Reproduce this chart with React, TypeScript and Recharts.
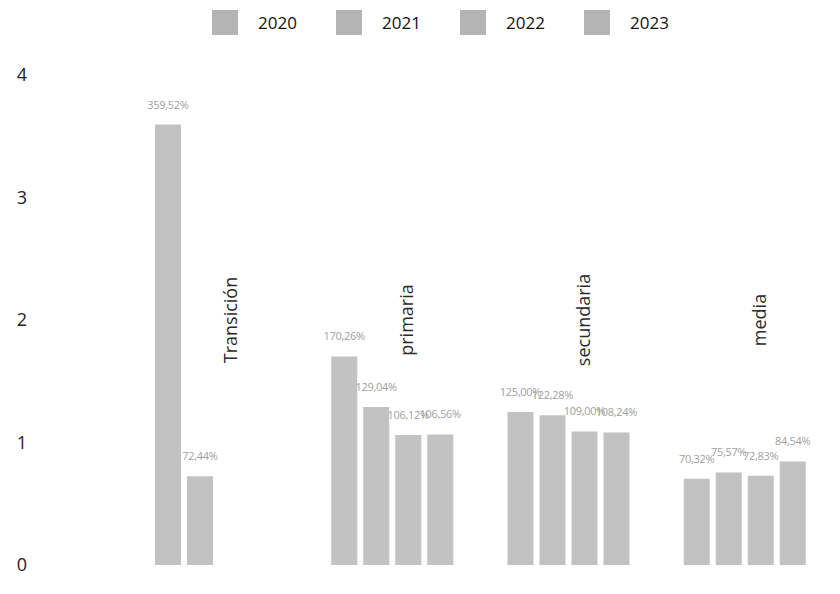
import React from "react";
import { BarChart, Bar, XAxis, YAxis, LabelList, ReferenceDot } from "recharts";

const categories = ["Transición", "primaria", "secundaria", "media"];
const years = ["2020", "2021", "2022", "2023"];
const v2020 = [3.5952, 1.7026, 1.25, 0.7032];
const v2021 = [0.7244, 1.2904, 1.2228, 0.7557];
const v2022 = [null, 1.0612, 1.09, 0.7283];
const v2023 = [null, 1.0656, 1.0824, 0.8454];
const yTicks = [0, 1, 2, 3, 4];
const categoryLabelValue = 2;

const series = [v2020, v2021, v2022, v2023];
const data = categories.map((c, i) => {
  const row: any = { category: c };
  years.forEach((y, k) => {
    row[y] = series[k][i];
  });
  return row;
});

const BAR_FILL = "#c2c2c2";
const FONT = "'Open Sans', 'Noto Sans', sans-serif";

const fmt = (v: any) =>
  v == null ? "" : (v * 100).toFixed(2).replace(".", ",") + "%";

const CategoryText = (props: any) => {
  const { cx, cy } = props;
  const label = props.label_text;
  return (
    <text
      x={cx + 14}
      y={cy}
      transform={`rotate(-90, ${cx + 14}, ${cy})`}
      textAnchor="middle"
      dominantBaseline="central"
      fontSize={18}
      fill="#2a2a2a"
      fontFamily={FONT}
    >
      {label}
    </text>
  );
};

const LegendRow = () => (
  <div
    style={{
      position: "absolute",
      top: 10,
      left: 212,
      display: "flex",
      alignItems: "center",
      fontFamily: FONT,
      fontSize: 17,
      color: "#111",
      zIndex: 1,
    }}
  >
    {years.map((y) => (
      <div key={y} style={{ display: "flex", alignItems: "center", width: 124 }}>
        <div style={{ width: 26, height: 25, background: "#b4b4b4", marginRight: 20 }} />
        <span>{y}</span>
      </div>
    ))}
  </div>
);

export default function App() {
  return (
    <div style={{ position: "absolute", left: 0, top: 0, width: 840, height: 594, background: "#fff" }}>
      <LegendRow />
      <BarChart
        width={840}
        height={594}
        data={data}
        margin={{ top: 75, right: 7, bottom: 29, left: 0 }}
        barSize={26}
        barGap={6}
      >
        <XAxis dataKey="category" hide padding={{ left: 93, right: 0 }} />
        <YAxis
          domain={[0, 4]}
          ticks={yTicks}
          width={35}
          axisLine={false}
          tickLine={false}
          tick={{ fontSize: 18, fill: "#222", fontFamily: FONT }}
        />
        {years.map((y) => (
          <Bar key={y} dataKey={y} fill={BAR_FILL} isAnimationActive={false}>
            <LabelList
              dataKey={y}
              position="top"
              offset={16}
              formatter={fmt}
              style={{ fontSize: 11, fill: "#a0a0a0", fontFamily: FONT, letterSpacing: -0.3 }}
            />
          </Bar>
        ))}
        {categories.map((c) => (
          <ReferenceDot
            key={c}
            x={c}
            y={categoryLabelValue}
            r={0}
            shape={(p: any) => <CategoryText {...p} label_text={c} />}
          />
        ))}
      </BarChart>
    </div>
  );
}
